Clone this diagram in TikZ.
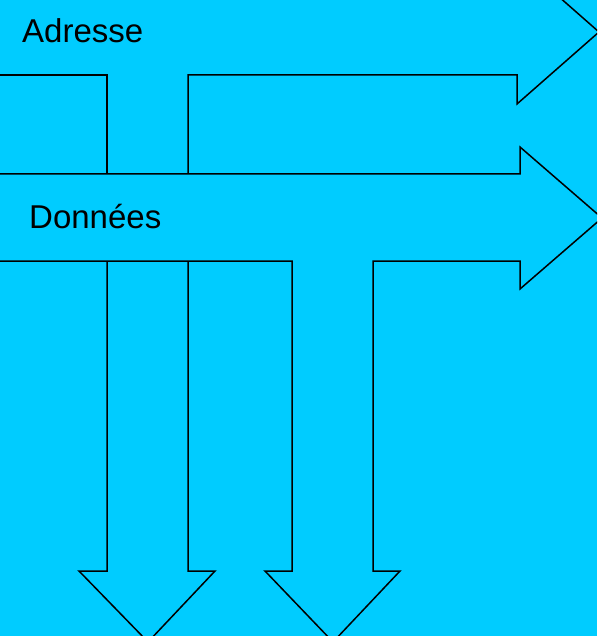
\documentclass[tikz,border=0pt]{standalone}
\usepackage{fontspec}
\setmainfont{Liberation Sans}
\definecolor{busblue}{HTML}{00CCFF}
\tikzset{
  busline/.style={draw=black, line width=1.5pt, line join=miter},
  buslabel/.style={anchor=base west, inner sep=0pt, font=\fontsize{33}{40}\selectfont},
}

\begin{document}
\begin{tikzpicture}[x=1pt,y=-1pt]
  \useasboundingbox (0,0) rectangle (597,636);
  \fill[busblue] (0,0) rectangle (597,636);
  \clip (0,0) rectangle (597,636);

  % bus d'adresse
  \draw[busline] (-5,75) -- (107,75) -- (107,174);
  \draw[busline] (188,174) -- (188,75) -- (517,75) -- (517,104) -- (599,32) -- (517,-40);
  \node[buslabel] (adresse) at (22,43) {Adresse};

  % bus de donnees
  \draw[busline] (-5,174) -- (520,174) -- (520,147) -- (602,218) -- (520,289)
    -- (520,261) -- (373,261) -- (373,571) -- (400,571) -- (333,642)
    -- (265,571) -- (292,571) -- (292,261) -- (-5,261);
  \draw[busline] (107,261) -- (107,571) -- (79,571) -- (148,642)
    -- (215,571) -- (188,571) -- (188,261);
  \node[buslabel] (donnees) at (29,228) {Données};
\end{tikzpicture}
\end{document}
